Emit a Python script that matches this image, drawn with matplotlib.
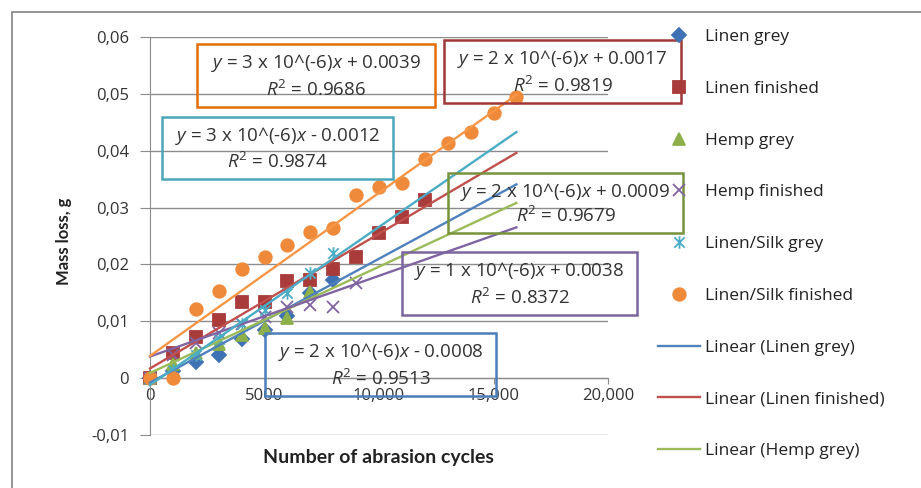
import matplotlib
matplotlib.use('Agg')
import matplotlib.pyplot as plt
from matplotlib.path import Path
from matplotlib.patches import Rectangle
import numpy as np

plt.rcParams['font.family'] = ['Open Sans', 'DejaVu Sans']
plt.rcParams['mathtext.fontset'] = 'custom'
plt.rcParams['mathtext.rm'] = 'Open Sans'
plt.rcParams['mathtext.it'] = 'Open Sans:italic'

# data
cycles = [0, 1000, 2000, 3000, 4000, 5000, 6000, 7000, 8000,
          9000, 10000, 11000, 12000, 13000, 14000, 15000, 16000]
series_names = ['Linen grey', 'Linen finished', 'Hemp grey', 'Hemp finished',
                'Linen/Silk grey', 'Linen/Silk finished']
linen_grey = [0, 0.0012, 0.0028, 0.0040, 0.0068, 0.0085, 0.0110, 0.0150, 0.0172]
linen_finished = [0, 0.0044, 0.0072, 0.0102, 0.0134, 0.0134, 0.0171, 0.0172,
                  0.0192, 0.0213, 0.0255, 0.0283, 0.0313]
hemp_grey = [0, 0.0025, 0.0045, 0.0060, 0.0075, 0.0088, 0.0106, 0.0152]
hemp_finished = [0, 0.0040, 0.0062, 0.0080, 0.0095, 0.0108, 0.0125, 0.0128,
                 0.0125, 0.0167]
silk_grey = [0, 0.0015, 0.0040, 0.0068, 0.0095, 0.0120, 0.0150, 0.0185, 0.0220]
silk_finished = [0, 0, 0.0121, 0.0153, 0.0192, 0.0213, 0.0234, 0.0257, 0.0264,
                 0.0322, 0.0336, 0.0343, 0.0385, 0.0414, 0.0433, 0.0467, 0.0494]

# linear trendlines (slope per cycle, intercept) as drawn
trend_slope = [2.18e-6, 2.37e-6, 1.87e-6, 1.42e-6, 2.78e-6, 2.87e-6]
trend_intercept = [-0.0008, 0.0017, 0.0009, 0.0038, -0.0012, 0.0039]
trend_end = 16000
eq_text = ['y = 2 x 10^(-6)x - 0.0008', 'y = 2 x 10^(-6)x + 0.0017',
           'y = 2 x 10^(-6)x + 0.0009', 'y = 1 x 10^(-6)x + 0.0038',
           'y = 3 x 10^(-6)x - 0.0012', 'y = 3 x 10^(-6)x + 0.0039']
r2_text = ['0.9513', '0.9819', '0.9679', '0.8372', '0.9874', '0.9686']

yticks = [-0.01, 0, 0.01, 0.02, 0.03, 0.04, 0.05, 0.06]
ytick_labels = ['-0,01', '0', '0,01', '0,02', '0,03', '0,04', '0,05', '0,06']
xticks = [0, 5000, 10000, 15000, 20000]
xtick_labels = ['0', '5000', '10,000', '15,000', '20,000']

colors = ['#4F81BD', '#C0504D', '#9BBB59', '#8064A2', '#4BACC6', '#F79646']
marker_colors = ['#3F72B5', '#A93C3A', '#8DB04A', '#8064A2', '#4BACC6', '#EE8A3A']
box_colors = ['#4A7EBB', '#A03838', '#77933C', '#7A65A0', '#4AA6B8', '#E46C0A']

star = Path([(-1, -1), (1, 1), (-1, 1), (1, -1), (0, -1.2), (0, 1.2)],
            [Path.MOVETO, Path.LINETO, Path.MOVETO, Path.LINETO, Path.MOVETO, Path.LINETO])
markers = ['D', 's', '^', 'x', star, 'o']
msizes = [7, 8.5, 8, 8, 9, 9]

W, H = 921, 488
fig = plt.figure(figsize=(W / 100, H / 100), dpi=100)
ax = fig.add_axes([150 / W, 1 - 435 / H, 458 / W, 398 / H])

all_series = [linen_grey, linen_finished, hemp_grey, hemp_finished, silk_grey, silk_finished]
handles = []
for i, vals in enumerate(all_series):
    xs = cycles[:len(vals)]
    h, = ax.plot(xs, vals, linestyle='none', marker=markers[i], ms=msizes[i],
                 color=marker_colors[i], mec=marker_colors[i], mew=1.3,
                 clip_on=False, zorder=3, label=series_names[i])
    handles.append(h)

line_handles = []
for i in range(6):
    tx = np.array([0, trend_end])
    ty = trend_slope[i] * tx + trend_intercept[i]
    l, = ax.plot(tx, ty, color=colors[i], lw=1.7, zorder=4, clip_on=False,
                 label='Linear (' + series_names[i] + ')')
    line_handles.append(l)

ax.set_xlim(0, 20000)
ax.set_ylim(-0.01, 0.06)
ax.set_yticks(yticks)
ax.set_yticklabels(ytick_labels)
ax.set_xticks(xticks)
ax.set_xticklabels(xtick_labels, family=['Lato', 'DejaVu Sans'])
ax.grid(axis='y', color='#8C8C8C', lw=1)
ax.set_axisbelow(True)
for s in ['top', 'right']:
    ax.spines[s].set_visible(False)
ax.spines['bottom'].set_position(('data', 0))
ax.spines['bottom'].set_color('#8C8C8C')
ax.spines['left'].set_color('#8C8C8C')
ax.tick_params(axis='y', length=7, pad=8, color='#8C8C8C', labelsize=12, labelcolor='#333333')
ax.tick_params(axis='x', length=4, pad=3, color='#8C8C8C', labelsize=12, labelcolor='#333333')

ax.set_ylabel('Mass loss, g', fontsize=12, fontweight='bold', color='#222222',
              family=['Lato', 'DejaVu Sans'])
ax.yaxis.set_label_coords(-0.17, 0.487)
ax.set_xlabel('Number of abrasion cycles', fontsize=14, fontweight='bold',
              color='#222222', family=['Lato', 'DejaVu Sans'])
ax.xaxis.set_label_coords(0.498, -0.035)

# trendline equation boxes (pixel layout)
boxes = [(265, 333, 496, 396), (444, 40, 681, 103), (448, 173, 683, 233),
         (402, 252, 637, 315), (162, 117, 393, 179), (197, 44, 435, 107)]
for i, (x0, y0, x1, y1) in enumerate(boxes):
    fig.patches.append(Rectangle((x0 / W, 1 - y1 / H), (x1 - x0) / W, (y1 - y0) / H,
                                 transform=fig.transFigure, fill=False,
                                 ec=box_colors[i], lw=1.8, zorder=5))
    cx = (x0 + x1) / 2
    eq = eq_text[i].replace('y =', r'$\mathit{y}$ =', 1).replace(')x', r')$\mathit{x}$')
    fig.text(cx / W, 1 - (y0 + 19) / H, eq, ha='center', va='center',
             fontsize=13.5, color='#333333', zorder=6)
    fig.text(cx / W, 1 - (y1 - 17) / H, r'$\mathit{R}^2$ = ' + r2_text[i],
             ha='center', va='center', fontsize=13.5, color='#333333', zorder=6)

leg = fig.legend(handles + line_handles[:3],
                 [h.get_label() for h in handles + line_handles[:3]],
                 loc='upper left', bbox_to_anchor=(658 / W, 1 - 29 / H),
                 frameon=False, fontsize=12.5, labelspacing=2.05, handlelength=2.4,
                 handletextpad=0.3, borderpad=0, borderaxespad=0)
for t in leg.get_texts():
    t.set_color('#222222')

# outer chart border
fig.patches.append(Rectangle((12 / W, -0.1), 1.2, 1.1 - 12 / H, transform=fig.transFigure,
                             fill=False, ec='#8C8C8C', lw=1.3))

fig.savefig('out.png', dpi=100)
